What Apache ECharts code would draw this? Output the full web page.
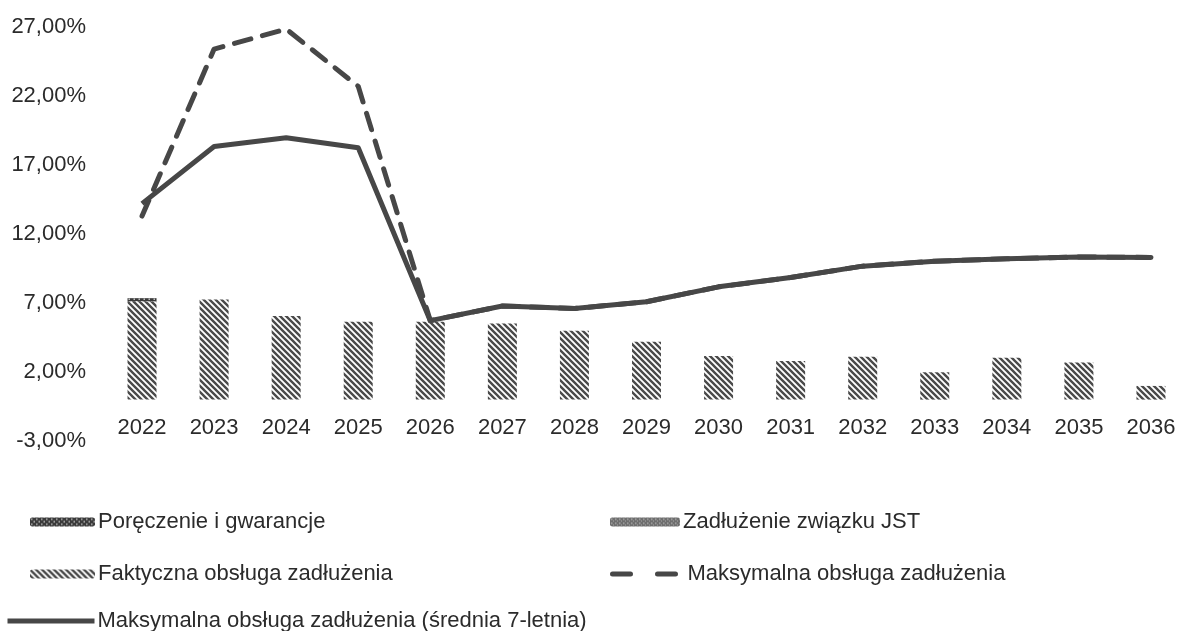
<!DOCTYPE html>
<html>
<head>
<meta charset="utf-8">
<script src="https://cdn.jsdelivr.net/npm/echarts@6/dist/echarts.min.js"></script>
<style>
  html, body { margin: 0; padding: 0; background: #fff; }
  #chart { width: 1187px; height: 631px; }
</style>
</head>
<body>
<div id="chart"></div>
<script>
var years = ['2022','2023','2024','2025','2026','2027','2028','2029','2030','2031','2032','2033','2034','2035','2036'];
// wartości w %
var faktyczna = [7.12, 7.25, 6.05, 5.64, 5.64, 5.52, 4.99, 4.19, 3.16, 2.80, 3.11, 1.98, 3.04, 2.68, 0.99];
var poreczenie = [0.23, 0, 0, 0, 0, 0, 0, 0, 0, 0, 0, 0, 0, 0, 0];
var zwiazek = [0, 0, 0, 0, 0, 0, 0, 0, 0, 0, 0, 0, 0, 0, 0];
var maksymalna = [13.3, 25.4, 26.85, 22.7, 5.72, 6.78, 6.6, 7.09, 8.17, 8.85, 9.67, 10.03, 10.2, 10.34, 10.3];
var srednia7 = [14.2, 18.34, 18.97, 18.25, 5.72, 6.78, 6.6, 7.09, 8.17, 8.85, 9.67, 10.03, 10.2, 10.34, 10.3];
var yTicks = { min: -3, max: 27, step: 5 };

var names = [
  'Poręczenie i gwarancje',
  'Zadłużenie związku JST',
  'Faktyczna obsługa zadłużenia',
  'Maksymalna obsługa zadłużenia',
  'Maksymalna obsługa zadłużenia (średnia 7-letnia)'
];

var FONT = 'Liberation Sans, Arial, sans-serif';
var LINE = '#474747';
var TEXT = '#2b2b2b';

// wzorek ukośny "\\\"
function stripes(bg, fg, size, lw) {
  var c = document.createElement('canvas');
  c.width = c.height = size;
  var ctx = c.getContext('2d');
  ctx.fillStyle = bg;
  ctx.fillRect(0, 0, size, size);
  ctx.strokeStyle = fg;
  ctx.lineWidth = lw;
  ctx.beginPath();
  ctx.moveTo(-1, -1); ctx.lineTo(size + 1, size + 1);
  ctx.moveTo(-1, size - 1); ctx.lineTo(1, size + 1);
  ctx.moveTo(size - 1, -1); ctx.lineTo(size + 1, 1);
  ctx.stroke();
  return c;
}
function dots(bg, fg, size) {
  var c = document.createElement('canvas');
  c.width = c.height = size;
  var ctx = c.getContext('2d');
  ctx.fillStyle = bg;
  ctx.fillRect(0, 0, size, size);
  ctx.fillStyle = fg;
  ctx.fillRect(1, 1, 1.5, 1.5);
  ctx.fillRect(size / 2 + 1, size / 2 + 1, 1.5, 1.5);
  return c;
}

var hatch = { image: stripes('#ffffff', '#4a4a4a', 6, 2.4), repeat: 'repeat' };
var darkPat = { image: dots('#3a3a3a', '#bdbdbd', 5), repeat: 'repeat' };
var grayPat = { image: dots('#6e6e6e', '#a8a8a8', 4), repeat: 'repeat' };

var chart = echarts.init(document.getElementById('chart'));

function legendAt(name, left, top, w) {
  return {
    data: [name],
    left: left,
    top: top,
    padding: 0,
    itemWidth: w,
    itemHeight: 9,
    selectedMode: false,
    itemStyle: { opacity: 0 },
    textStyle: { fontFamily: FONT, fontSize: 22, color: TEXT, padding: [0, 0, 0, -2] }
  };
}

var legends = [
  legendAt(names[0], 30, 511, 65),
  legendAt(names[1], 610, 511, 70),
  legendAt(names[2], 30, 563, 65),
  legendAt(names[3], 610, 563, 72),
  legendAt(names[4], 5, 610, 87)
];
// ikony słupków mają być widoczne
legends[0].itemStyle = {};
legends[1].itemStyle = {};
legends[2].itemStyle = {};
legends[3].lineStyle = { width: 5, type: [18, 27] };
legends[4].lineStyle = { width: 5 };

var option = {
  backgroundColor: '#ffffff',
  animation: false,
  legend: legends,
  grid: { left: 106, width: 1090, top: 27, height: 414 },
  xAxis: {
    type: 'category',
    data: years,
    // etykiety lat tuż pod linią zera
    offset: -41,
    axisLine: { show: false },
    axisTick: { show: false },
    axisLabel: { margin: 17, fontFamily: FONT, fontSize: 22, color: TEXT }
  },
  yAxis: {
    type: 'value',
    min: yTicks.min,
    max: yTicks.max,
    interval: yTicks.step,
    splitLine: { show: false },
    axisLine: { show: false },
    axisTick: { show: false },
    axisLabel: {
      margin: 20,
      fontFamily: FONT,
      fontSize: 22,
      color: TEXT,
      formatter: function (v) { return v.toFixed(2).replace('.', ',') + '%'; }
    }
  },
  series: [
    {
      name: names[2], type: 'bar', stack: 'a', barWidth: 29,
      data: faktyczna,
      itemStyle: { color: hatch }
    },
    {
      name: names[0], type: 'bar', stack: 'a', barWidth: 29,
      data: poreczenie,
      itemStyle: { color: darkPat }
    },
    {
      name: names[1], type: 'bar', stack: 'a', barWidth: 29,
      data: zwiazek,
      itemStyle: { color: grayPat }
    },
    {
      name: names[3], type: 'line', data: maksymalna,
      symbol: 'none', z: 3,
      lineStyle: { color: LINE, width: 5, type: [17, 12], cap: 'round', join: 'round' },
      itemStyle: { color: LINE }
    },
    {
      name: names[4], type: 'line', data: srednia7,
      symbol: 'none', z: 4,
      lineStyle: { color: LINE, width: 5, join: 'round' },
      itemStyle: { color: LINE }
    }
  ]
};

chart.setOption(option);
</script>
</body>
</html>
